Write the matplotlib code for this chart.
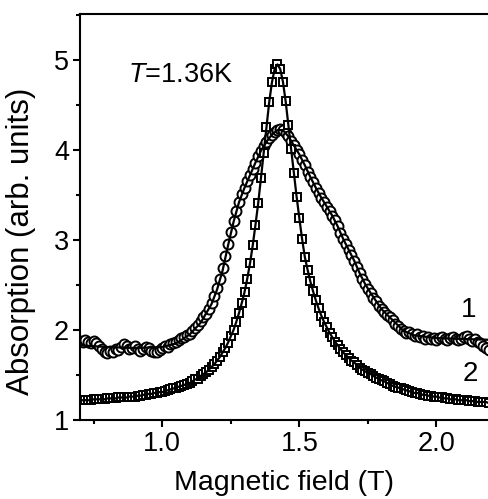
import matplotlib
matplotlib.use('Agg')
import matplotlib.pyplot as plt
import numpy as np
from matplotlib.ticker import MultipleLocator

plt.rcParams['font.family'] = ['Liberation Sans', 'DejaVu Sans']
plt.rcParams['mathtext.fontset'] = 'custom'
plt.rcParams['mathtext.rm'] = 'Liberation Sans'
plt.rcParams['mathtext.it'] = 'Liberation Sans:italic'

# field grid (T), 0.70 ... 2.19 in 0.01 steps
field = np.round(np.arange(0.70, 2.195, 0.01), 2)

# curve 1 (circles)
absorb1 = [1.88, 1.87, 1.89, 1.87, 1.86, 1.88, 1.85, 1.82, 1.79, 1.76,
           1.74, 1.77, 1.76, 1.79, 1.78, 1.81, 1.84, 1.82, 1.79, 1.80,
           1.82, 1.79, 1.77, 1.79, 1.81, 1.80, 1.77, 1.76, 1.75, 1.78,
           1.80, 1.82, 1.81, 1.84, 1.86, 1.87, 1.89, 1.91, 1.92, 1.94,
           1.96, 1.99, 2.02, 2.06, 2.10, 2.14, 2.18, 2.23, 2.30, 2.38,
           2.47, 2.57, 2.69, 2.82, 2.96, 3.09, 3.21, 3.32, 3.42, 3.51,
           3.58, 3.65, 3.72, 3.79, 3.86, 3.93, 3.99, 4.04, 4.09, 4.13,
           4.17, 4.20, 4.22, 4.23, 4.22, 4.19, 4.15, 4.10, 4.05, 4.00,
           3.95, 3.89, 3.83, 3.76, 3.70, 3.64, 3.58, 3.52, 3.47, 3.42,
           3.37, 3.32, 3.27, 3.22, 3.15, 3.08, 3.01, 2.95, 2.89, 2.83,
           2.77, 2.70, 2.63, 2.57, 2.51, 2.46, 2.41, 2.36, 2.32, 2.27,
           2.23, 2.20, 2.17, 2.14, 2.11, 2.07, 2.04, 2.01, 1.99, 1.97,
           1.98, 1.95, 1.93, 1.95, 1.92, 1.93, 1.90, 1.92, 1.90, 1.91,
           1.89, 1.91, 1.92, 1.90, 1.89, 1.91, 1.92, 1.90, 1.89, 1.90,
           1.92, 1.93, 1.90, 1.88, 1.90, 1.87, 1.85, 1.82, 1.80, 1.78]

# curve 2 (squares)
absorb2 = [1.22, 1.22, 1.22, 1.22, 1.22, 1.23, 1.23, 1.23, 1.23, 1.23,
           1.24, 1.24, 1.24, 1.24, 1.25, 1.25, 1.25, 1.25, 1.26, 1.26,
           1.26, 1.27, 1.27, 1.28, 1.28, 1.29, 1.29, 1.30, 1.30, 1.31,
           1.31, 1.32, 1.33, 1.34, 1.35, 1.36, 1.37, 1.38, 1.39, 1.40,
           1.41, 1.43, 1.45, 1.46, 1.49, 1.51, 1.53, 1.56, 1.59, 1.62,
           1.66, 1.70, 1.75, 1.80, 1.86, 1.93, 2.00, 2.09, 2.19, 2.30,
           2.42, 2.57, 2.74, 2.94, 3.17, 3.41, 3.69, 3.97, 4.26, 4.53,
           4.75, 4.90, 4.95, 4.90, 4.76, 4.54, 4.28, 4.01, 3.74, 3.48,
           3.24, 3.01, 2.81, 2.67, 2.54, 2.43, 2.33, 2.24, 2.16, 2.09,
           2.03, 1.97, 1.92, 1.87, 1.83, 1.79, 1.75, 1.72, 1.69, 1.66,
           1.64, 1.61, 1.58, 1.56, 1.54, 1.52, 1.51, 1.49, 1.47, 1.46,
           1.44, 1.43, 1.41, 1.40, 1.38, 1.37, 1.36, 1.35, 1.34, 1.33,
           1.32, 1.31, 1.30, 1.30, 1.29, 1.28, 1.28, 1.27, 1.27, 1.26,
           1.26, 1.25, 1.25, 1.24, 1.24, 1.23, 1.23, 1.23, 1.22, 1.22,
           1.22, 1.22, 1.21, 1.21, 1.21, 1.20, 1.20, 1.20, 1.20, 1.19]

# fit line through curve 1
fit1_x = [0.70, 0.80, 0.90, 1.00, 1.05, 1.10, 1.14, 1.18, 1.20, 1.22,
          1.24, 1.26, 1.28, 1.30, 1.32, 1.34, 1.36, 1.38, 1.40, 1.42,
          1.44, 1.46, 1.48, 1.50, 1.52, 1.54, 1.56, 1.58, 1.60, 1.62,
          1.64, 1.66, 1.68, 1.70, 1.72, 1.74, 1.76, 1.78, 1.80, 1.84,
          1.88, 1.92, 2.00, 2.10, 2.20]
fit1_y = [1.83, 1.81, 1.80, 1.81, 1.85, 1.95, 2.08, 2.29, 2.45, 2.66,
          2.94, 3.20, 3.42, 3.58, 3.72, 3.86, 3.99, 4.09, 4.17, 4.22,
          4.22, 4.15, 4.05, 3.95, 3.83, 3.70, 3.58, 3.47, 3.37, 3.27,
          3.15, 3.01, 2.89, 2.77, 2.63, 2.51, 2.41, 2.32, 2.23, 2.11,
          1.99, 1.94, 1.91, 1.90, 1.89]

fig = plt.figure(figsize=(4.88, 4.99), dpi=100)
ax = fig.add_axes([80 / 488, 79 / 499, 425 / 488, 406 / 499])

ax.plot(field, absorb1, 'o', ms=7.2, mfc='white', mec='black', mew=1.4, zorder=2)
ax.plot(field, absorb2, 's', ms=6.3, mfc='white', mec='black', mew=1.4, zorder=3)
ax.plot(fit1_x, fit1_y, '-', color='black', lw=1.6, zorder=4)
ax.plot(field, absorb2, '-', color='black', lw=1.6, zorder=4)

ax.set_xlim(0.70, 2.25)
ax.set_ylim(1.0, 5.51)
ax.xaxis.set_major_locator(MultipleLocator(0.5))
ax.xaxis.set_minor_locator(MultipleLocator(0.25))
ax.yaxis.set_major_locator(MultipleLocator(1))
ax.yaxis.set_minor_locator(MultipleLocator(0.5))
ax.xaxis.set_major_formatter(matplotlib.ticker.FormatStrFormatter('%.1f'))

for s in ax.spines.values():
    s.set_linewidth(1.5)
ax.tick_params(which='major', direction='out', length=5, width=1.5, labelsize=19.5, pad=3)
ax.tick_params(which='minor', direction='out', length=3, width=1.5)

ax.set_xlabel('Magnetic field (T)', fontsize=20.5)
ax.xaxis.set_label_coords(0.48, -0.124)
ax.set_ylabel('Absorption (arb. units)', fontsize=22.5)
ax.yaxis.set_label_coords(-0.104, 0.44)

ax.text(0.113, 0.85, r'$\mathit{T}$=1.36K', transform=ax.transAxes, fontsize=19.5,
        va='center')
ax.text(2.116, 2.22, '1', fontsize=20, ha='center', va='center')
ax.text(2.123, 1.51, '2', fontsize=20, ha='center', va='center')

fig.savefig('out.png', dpi=100)
